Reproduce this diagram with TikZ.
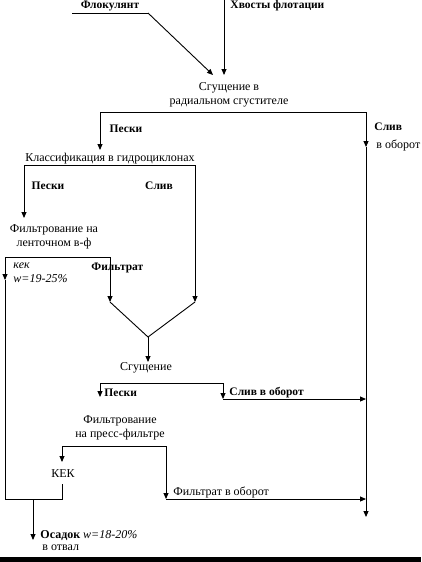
\documentclass[tikz,border=0pt]{standalone}
\usepackage{fontspec}
\setmainfont{Liberation Serif}
\usetikzlibrary{arrows.meta}
\begin{document}
\begin{tikzpicture}[x=1pt,y=-1pt,
  line width=0.9pt,
  flow/.style={-{Triangle[length=6pt,width=5pt]}},
  lbl/.style={inner sep=0pt,font=\fontsize{12}{14.5}\selectfont,align=center},
  blbl/.style={inner sep=0pt,font=\fontsize{11.5}{14}\selectfont\bfseries},
  ilbl/.style={inner sep=0pt,font=\fontsize{12}{14}\selectfont\itshape,align=left}]
\useasboundingbox (0,0) rectangle (421,562);
\fill[black] (0,557) rectangle (421,562);
% coordinates
\coordinate (fl0) at (72,13);
\coordinate (fl1) at (148,13);
\coordinate (in1) at (213,75);
\coordinate (xv0) at (224,0);
\coordinate (in2) at (224,75);
\coordinate (r0) at (100,150);
\coordinate (r1) at (100,112);
\coordinate (r2) at (366,112);
\coordinate (r3) at (366,147);
\coordinate (r4) at (366,517);
\coordinate (k0) at (24,218);
\coordinate (k1) at (24,165);
\coordinate (k2) at (195,165);
\coordinate (k3) at (195,302);
\coordinate (f0) at (5,257);
\coordinate (f1) at (110,257);
\coordinate (f2) at (110,302);
\coordinate (fa) at (5,280);
\coordinate (f3) at (5,499);
\coordinate (vv) at (148,337);
\coordinate (sg) at (148,362);
\coordinate (s0) at (100,397);
\coordinate (s1) at (100,383);
\coordinate (s2) at (223,383);
\coordinate (s3) at (223,399);
\coordinate (s4) at (366,399);
\coordinate (p0) at (62,462);
\coordinate (p1) at (62,446);
\coordinate (p2) at (166,446);
\coordinate (p3) at (166,499);
\coordinate (p4) at (366,499);
\coordinate (c0) at (62,484);
\coordinate (c1) at (62,499);
\coordinate (o0) at (33,499);
\coordinate (o1) at (33,540);
% texts
\node[blbl] (flok) at (110,6) {Флокулянт};
\node[blbl,anchor=west] (xvost) at (230,6) {Хвосты флотации};
\node[lbl] (sgr) at (229,95) {Сгущение в\\радиальном сгустителе};
\node[blbl] (pes1) at (126,129) {Пески};
\node[blbl,anchor=west] (sliv1) at (374,127) {Слив};
\node[lbl,anchor=west] (obor1) at (376,145) {в оборот};
\node[lbl] (klass) at (110,159) {Классификация в гидроциклонах};
\node[blbl] (pes2) at (48,186) {Пески};
\node[blbl] (sliv2) at (159,186) {Слив};
\node[lbl] (film) at (54,237) {Фильтрование на\\ленточном в-ф};
\node[ilbl,anchor=north west] (kek1) at (13,262) {кек\\w=19-25\%};
\node[blbl,anchor=west] (filtr) at (91,268) {Фильтрат};
\node[lbl] (sgu) at (146,368) {Сгущение};
\node[blbl,anchor=west] (pes3) at (104,393) {Пески};
\node[blbl,anchor=west] (sliv3) at (229,393) {Слив в оборот};
\node[lbl] (pres) at (120,428) {Фильтрование\\на пресс-фильтре};
\node[lbl] (kek2) at (63,474) {КЕК};
\node[lbl,anchor=west] (fobor) at (173,492) {Фильтрат в оборот};
\node[anchor=west,inner sep=0pt,font=\fontsize{12}{14}\selectfont] (osad) at (40,536) {\textbf{Осадок} \textit{w=18-20\%}};
\node[lbl,anchor=west] (otv) at (42,548) {в отвал};
% connectors
\draw (fl0) -- (fl1);
\draw[flow] (fl1) -- (in1);
\draw[flow] (xv0) -- (in2);
\draw[flow] (r1) -- (r0);
\draw (r1) -- (r2);
\draw[flow] (r2) -- (r3);
\draw[flow] (r3) -- (r4);
\draw[flow] (k1) -- (k0);
\draw[flow] (k1) -- (k2) -- (k3);
\draw (f3) -- (fa);
\draw[flow] (f0) -- (fa);
\draw[flow] (f0) -- (f1) -- (f2);
\draw (f2) -- (vv) -- (k3);
\draw[flow] (vv) -- (sg);
\draw[flow] (s1) -- (s0);
\draw[flow] (s1) -- (s2) -- (s3);
\draw[flow] (s3) -- (s4);
\draw[flow] (p1) -- (p0);
\draw[flow] (p1) -- (p2) -- (p3);
\draw[flow] (p3) -- (p4);
\draw (c0) -- (c1) -- (f3);
\draw[flow] (o0) -- (o1);
\end{tikzpicture}
\end{document}
